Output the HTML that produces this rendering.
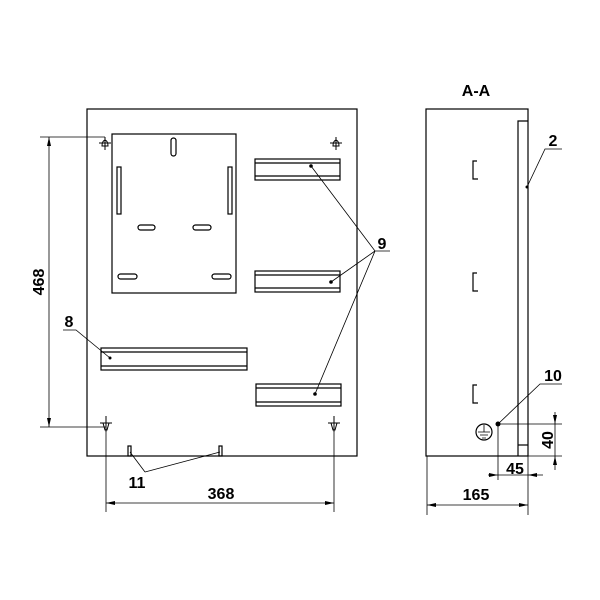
<!DOCTYPE html>
<html><head><style>body{margin:0;background:#fff}svg{display:block}text{font-family:"Liberation Sans",Arial,sans-serif;font-weight:bold;fill:#000}</style></head>
<body>
<svg width="600" height="600" viewBox="0 0 600 600" xmlns="http://www.w3.org/2000/svg">
<g fill="none" stroke="#000" stroke-width="1.2">
<rect x="87" y="109" width="270" height="347"/>
<rect x="112" y="134" width="124" height="159"/>
<rect x="171" y="138" width="5" height="18" rx="2.5"/>
<rect x="117" y="167" width="4" height="47"/>
<rect x="228" y="167" width="4" height="47"/>
<rect x="138" y="225" width="17" height="5" rx="2.5"/>
<rect x="193" y="225" width="18" height="5" rx="2.5"/>
<rect x="118" y="274" width="19" height="5" rx="2.5"/>
<rect x="212" y="274" width="19" height="5" rx="2.5"/>
<rect x="255" y="159" width="85" height="21"/><path d="M255 163H340M255 176H340"/>
<rect x="255" y="271" width="85" height="21"/><path d="M255 275H340M255 288H340"/>
<rect x="256" y="384" width="85" height="22"/><path d="M256 388H341M256 402H341"/>
<rect x="101" y="348" width="146" height="22"/><path d="M101 352H247M101 366H247"/>
<rect x="128" y="446" width="3" height="10"/><rect x="219" y="446" width="3" height="10"/>
</g>
<g fill="none" stroke="#000" stroke-width="1">
<path d="M102 146 q0 -5 3 -6 q3 1 3 6 z M99 143H111 M105 137V150"/>
<path d="M333 146 q0 -5 3 -6 q3 1 3 6 z M330 143H342 M336 137V150"/>
<path d="M103 423 q3 0 6 0 l-2 7 h-2 z M100 423H112 M106 416V432"/>
<path d="M331 423 q3 0 6 0 l-2 7 h-2 z M328 423H340 M334 416V432"/>
</g>
<g fill="none" stroke="#000" stroke-width="0.8">
<path d="M40 137H105M40 427H106M49 137V427"/>
<path d="M106 432V512M334 432V512M106 503H334"/>
<path d="M63 330H76L110 358"/>
<path d="M145 472L130 452M145 472L220 452"/>
<path d="M390 251H375L311 166M375 251L331 282M375 251L315 394"/>
<path d="M427 456V515M528 456V515M427 505H528"/>
<path d="M427 456H562M498 424H562M555 412V470"/>
<path d="M498 424V480M488 475H543"/>
<path d="M562 149H545L527 187"/>
<path d="M562 384H540L498 424"/>
</g>
<g fill="#000">
<path d="M49 137l-2 9h4z M49 427l-2 -9h4z"/>
<path d="M106 503l9 -2v4z M334 503l-9 -2v4z"/>
<path d="M427 505l9 -2v4z M528 505l-9 -2v4z"/>
<path d="M498 475l-9 -2v4z M528 475l9 -2v4z"/>
<path d="M555 424l-2 -9h4z M555 456l-2 9h4z"/>
<circle cx="311" cy="166" r="1.8"/><circle cx="331" cy="282" r="1.8"/><circle cx="315" cy="394" r="1.8"/>
<circle cx="110" cy="358" r="1.5"/><circle cx="527" cy="187" r="1.5"/><circle cx="498" cy="424" r="2.5"/>
</g>
<g fill="none" stroke="#000" stroke-width="1.2">
<rect x="426" y="109" width="102" height="347"/>
<path d="M518 456V121H528"/>
<path d="M518 445H528"/>
<path d="M477 161h-4v18h5M477 273h-4v18h5M477 385h-4v18h5"/>
<circle cx="484" cy="432" r="8"/>
<path d="M484 425V432M478 432H490M480 435H488M482 438H486" stroke-width="0.8"/>
</g>
<g font-size="16">
<text x="476" y="96" text-anchor="middle">A-A</text>
<text x="553" y="146" text-anchor="middle">2</text>
<text x="382" y="249" text-anchor="middle">9</text>
<text x="69" y="327" text-anchor="middle">8</text>
<text x="553" y="381" text-anchor="middle">10</text>
<text x="137" y="488" text-anchor="middle">11</text>
<text x="221" y="499" text-anchor="middle">368</text>
<text x="476" y="500" text-anchor="middle">165</text>
<text x="515" y="474" text-anchor="middle">45</text>
<text transform="translate(44,282) rotate(-90)" text-anchor="middle">468</text>
<text transform="translate(553,440) rotate(-90)" text-anchor="middle">40</text>
</g>
</svg>
</body></html>
